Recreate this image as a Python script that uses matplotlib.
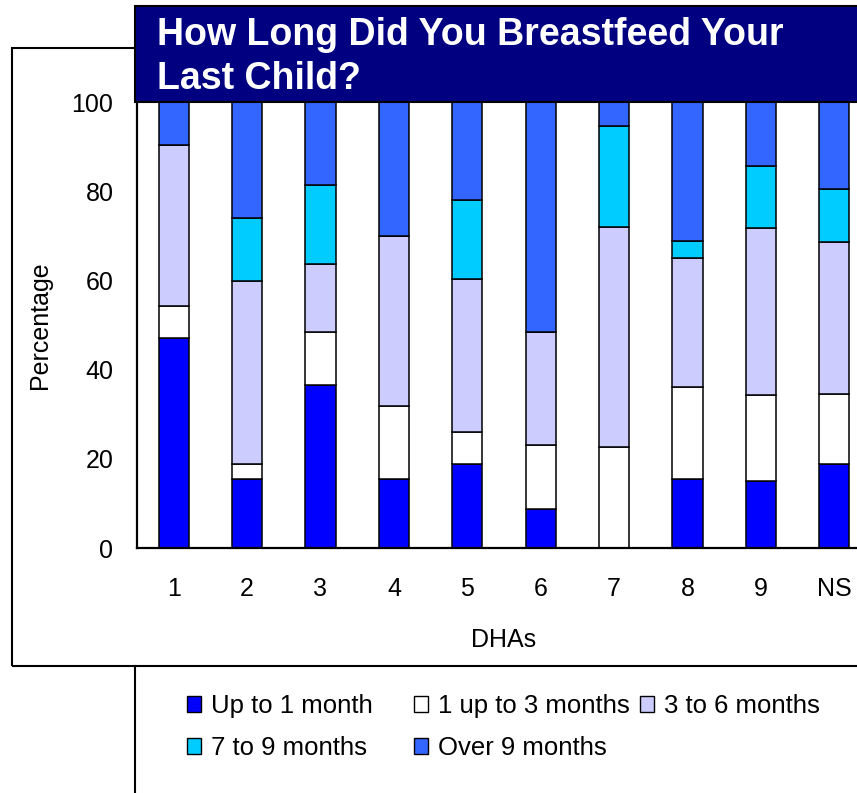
import numpy as np
import matplotlib.pyplot as plt
from matplotlib.patches import Rectangle, Patch
from matplotlib.lines import Line2D

plt.rcParams['font.family'] = ['Liberation Sans', 'DejaVu Sans']

dhas = ['1', '2', '3', '4', '5', '6', '7', '8', '9', 'NS']
up_to_1 = [47.0, 15.5, 36.5, 15.5, 18.8, 8.8, 0.0, 15.5, 15.1, 18.8]
m1_to_3 = [7.2, 3.3, 11.9, 16.3, 7.2, 14.4, 22.6, 20.5, 19.1, 15.7]
m3_to_6 = [36.2, 41.1, 15.3, 38.2, 34.4, 25.2, 49.3, 29.1, 37.5, 34.0]
m7_to_9 = [0.0, 14.2, 17.7, 0.0, 17.7, 0.0, 22.8, 3.8, 13.9, 11.9]
over_9 = [9.6, 25.9, 18.6, 30.0, 21.9, 51.6, 5.3, 31.1, 14.4, 19.6]

series = [up_to_1, m1_to_3, m3_to_6, m7_to_9, over_9]
names = ['Up to 1 month', '1 up to 3 months', '3 to 6 months', '7 to 9 months', 'Over 9 months']
colors = ['#0000FF', '#FFFFFF', '#CCCCFF', '#00CCFF', '#3366FF']

W, H = 857, 793
fig = plt.figure(figsize=(W / 100, H / 100), dpi=100)

# outer frames
fig.patches.append(Rectangle((12 / W, 1 - 666 / H), 1.0, (666 - 48) / H, transform=fig.transFigure,
                             fill=False, edgecolor='black', lw=1.5, zorder=0))
fig.lines.append(Line2D([135 / W, 135 / W], [1 - 666 / H, 0], transform=fig.transFigure,
                        color='black', lw=1.5))

ax = fig.add_axes([137 / W, 1 - 548 / H, 734 / W, 446 / H])
x = np.arange(len(dhas))
bottom = np.zeros(len(dhas))
handles = []
for vals, name, col in zip(series, names, colors):
    vals = np.array(vals)
    ax.bar(x, vals, 0.41, bottom=bottom, color=col, edgecolor='black', linewidth=1.1, zorder=2)
    bottom += vals
    handles.append(Patch(facecolor=col, edgecolor='black', linewidth=1.0, label=name))

ax.set_xlim(-0.5, 9.5)
ax.set_ylim(0, 100)
ax.set_yticks([0, 20, 40, 60, 80, 100])
ax.set_xticks(x)
ax.set_xticklabels(dhas)
ax.tick_params(axis='both', length=0, labelsize=18)
ax.tick_params(axis='y', pad=17)
ax.tick_params(axis='x', pad=21)
for s in ['top', 'right']:
    ax.spines[s].set_visible(False)
for s in ['left', 'bottom']:
    ax.spines[s].set_linewidth(1.6)
ax.set_xlabel('DHAs', fontsize=18, labelpad=19)
ax.set_ylabel('Percentage', fontsize=18, labelpad=14)

# title box
fig.patches.append(Rectangle((135 / W, 1 - 102 / H), 1.0, 96 / H, transform=fig.transFigure,
                             facecolor='#000080', edgecolor='black', lw=1.5, zorder=5))
fig.text(157 / W, 1 - 45 / H, 'How Long Did You Breastfeed Your', color='white', fontsize=27,
         fontweight='bold', va='baseline', ha='left', zorder=6)
fig.text(157 / W, 1 - 89 / H, 'Last Child?', color='white', fontsize=27,
         fontweight='bold', va='baseline', ha='left', zorder=6)

# legend in three columns
cols = [[handles[0], handles[3]], [handles[1], handles[4]], [handles[2]]]
xs = [187, 414, 640]
for hs, xp in zip(cols, xs):
    fig.legend(handles=hs, loc='upper left', bbox_to_anchor=(xp / W, 1 - 694 / H),
               frameon=False, fontsize=18.5, handlelength=0.55, handleheight=0.55,
               handletextpad=0.4, borderpad=0, borderaxespad=0, labelspacing=0.7)

fig.savefig('out.png', dpi=100)
